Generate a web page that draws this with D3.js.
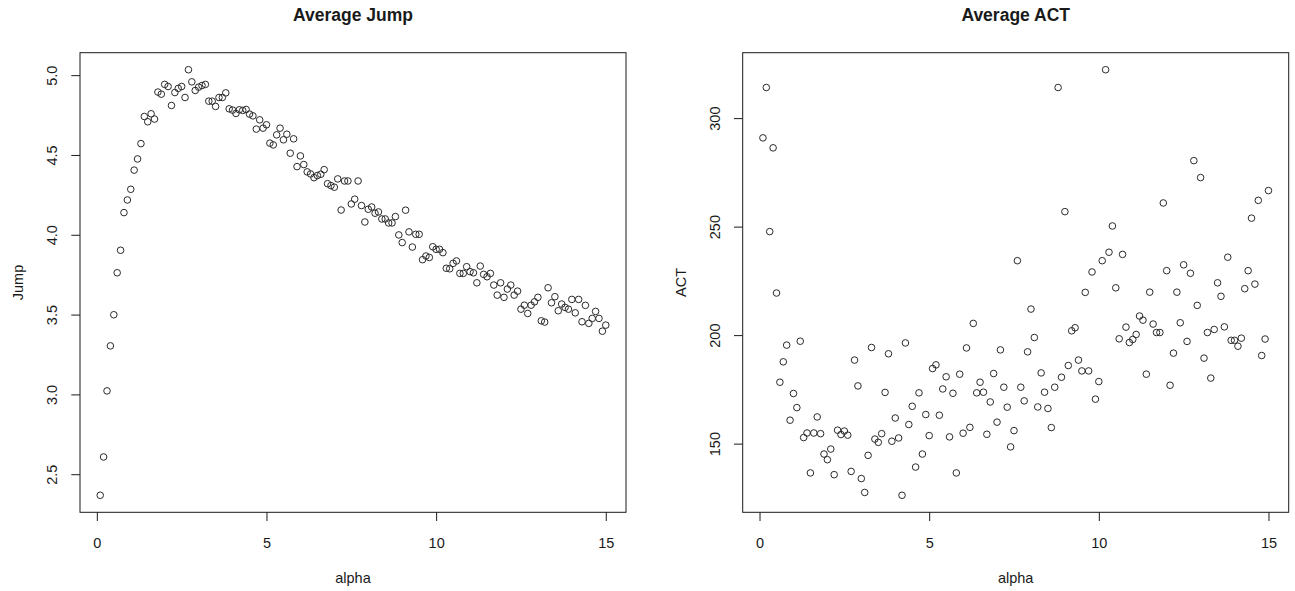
<!DOCTYPE html>
<html>
<head>
<meta charset="utf-8">
<script src="https://cdn.jsdelivr.net/npm/d3@7/dist/d3.min.js"></script>
<style>
  html, body { margin: 0; padding: 0; background: #fff; }
  svg { display: block; font-family: "Liberation Sans", Arial, Helvetica, sans-serif; }
</style>
</head>
<body>
<svg id="chart" width="1295" height="591"></svg>
<script>
const alpha = [0.1,0.2,0.3,0.4,0.5,0.6,0.7,0.8,0.9,1.0,1.1,1.2,1.3,1.4,1.5,1.6,1.7,1.8,1.9,2.0,
  2.1,2.2,2.3,2.4,2.5,2.6,2.7,2.8,2.9,3.0,3.1,3.2,3.3,3.4,3.5,3.6,3.7,3.8,3.9,4.0,
  4.1,4.2,4.3,4.4,4.5,4.6,4.7,4.8,4.9,5.0,5.1,5.2,5.3,5.4,5.5,5.6,5.7,5.8,5.9,6.0,
  6.1,6.2,6.3,6.4,6.5,6.6,6.7,6.8,6.9,7.0,7.1,7.2,7.3,7.4,7.5,7.6,7.7,7.8,7.9,8.0,
  8.1,8.2,8.3,8.4,8.5,8.6,8.7,8.8,8.9,9.0,9.1,9.2,9.3,9.4,9.5,9.6,9.7,9.8,9.9,10.0,
  10.1,10.2,10.3,10.4,10.5,10.6,10.7,10.8,10.9,11.0,11.1,11.2,11.3,11.4,11.5,11.6,11.7,11.8,11.9,12.0,
  12.1,12.2,12.3,12.4,12.5,12.6,12.7,12.8,12.9,13.0,13.1,13.2,13.3,13.4,13.5,13.6,13.7,13.8,13.9,14.0,
  14.1,14.2,14.3,14.4,14.5,14.6,14.7,14.8,14.9,15.0];

const jump = [2.368,2.608,3.022,3.304,3.499,3.762,3.903,4.139,4.218,4.285,
  4.405,4.475,4.571,4.741,4.708,4.758,4.725,4.894,4.881,4.942,
  4.929,4.810,4.891,4.917,4.929,4.860,5.034,4.958,4.904,4.925,
  4.935,4.942,4.837,4.837,4.804,4.860,4.860,4.889,4.789,4.781,
  4.760,4.783,4.779,4.785,4.756,4.745,4.662,4.720,4.668,4.689,
  4.574,4.563,4.626,4.668,4.595,4.630,4.511,4.601,4.427,4.494,
  4.440,4.394,4.381,4.358,4.371,4.379,4.408,4.320,4.308,4.298,
  4.350,4.155,4.337,4.337,4.193,4.223,4.337,4.183,4.080,4.160,
  4.174,4.135,4.143,4.099,4.099,4.074,4.074,4.114,3.999,3.951,
  4.154,4.018,3.923,4.003,4.003,3.844,3.867,3.858,3.925,3.909,
  3.909,3.888,3.790,3.787,3.821,3.836,3.758,3.758,3.800,3.769,
  3.762,3.699,3.804,3.752,3.737,3.758,3.685,3.622,3.699,3.608,
  3.660,3.685,3.622,3.647,3.534,3.559,3.507,3.559,3.580,3.608,
  3.461,3.453,3.668,3.574,3.612,3.524,3.566,3.545,3.534,3.595,
  3.511,3.595,3.455,3.558,3.445,3.476,3.520,3.476,3.396,3.434];

const act = [290.9,314.1,247.7,286.3,219.4,178.3,187.7,195.4,160.8,173.1,
  166.6,197.2,152.8,154.9,136.5,154.9,162.3,154.6,145.2,142.6,
  147.5,135.7,156.2,154.2,155.8,153.9,137.2,188.5,176.6,133.9,
  127.5,144.6,194.3,152.1,150.6,154.6,173.6,191.4,151.1,161.8,
  152.6,126.2,196.4,158.8,167.2,139.2,173.4,145.2,163.4,153.7,
  184.6,186.3,163.1,175.2,180.8,153.1,173.2,136.5,182.0,154.8,
  194.1,157.5,205.4,173.4,178.3,173.7,154.3,169.2,182.3,159.9,
  193.2,176.0,166.8,148.5,156.0,234.3,176.0,169.7,192.3,212.0,
  198.9,166.9,182.6,173.7,166.2,157.4,176.0,314.1,180.6,256.9,
  186.0,202.0,203.4,188.5,183.5,219.7,183.5,229.1,170.5,178.6,
  234.3,322.3,238.2,250.3,221.8,198.3,237.2,203.7,196.6,198.0,
  200.3,208.8,206.9,182.0,219.8,205.1,201.2,201.2,260.9,229.7,
  176.9,191.7,219.8,205.7,232.4,197.1,228.5,280.4,213.7,272.6,
  189.4,201.2,180.2,202.6,224.1,217.9,203.8,235.9,197.6,197.6,
  194.9,198.6,221.4,229.7,253.9,223.5,262.1,190.6,198.2,266.6];

const xTicks = [0, 5, 10, 15];
const jumpTicks = [2.5, 3.0, 3.5, 4.0, 4.5, 5.0];
const actTicks = [150, 200, 250, 300];

const panels = [
  { title: "Average Jump", ylab: "Jump", values: jump, yTicks: jumpTicks, fmt: d3.format(".1f"), left: 80 },
  { title: "Average ACT", ylab: "ACT", values: act, yTicks: actTicks, fmt: d3.format("d"), left: 742.7 }
];

const svg = d3.select("#chart");
const plotW = 546, plotTop = 52.7, plotBottom = 512.3;
const tickLen = 8.7;
const ink = "#1a1a1a";
const fontFam = "'Liberation Sans', Arial, Helvetica, sans-serif";

function padDomain(ext) {
  const r = ext[1] - ext[0];
  return [ext[0] - 0.04 * r, ext[1] + 0.04 * r];
}

panels.forEach(p => {
  const x = d3.scaleLinear().domain(padDomain(d3.extent(alpha))).range([p.left, p.left + plotW]);
  const y = d3.scaleLinear().domain(padDomain(d3.extent(p.values))).range([plotBottom, plotTop]);
  const g = svg.append("g");

  // points
  g.append("g").selectAll("circle")
    .data(alpha.map((a, i) => [a, p.values[i]]))
    .join("circle")
    .attr("cx", d => x(d[0]))
    .attr("cy", d => y(d[1]))
    .attr("r", 3.3)
    .attr("fill", "none")
    .attr("stroke", "#2a2a2a")
    .attr("stroke-width", 1);

  // x axis
  const xa = g.append("g").attr("transform", `translate(0,${plotBottom})`)
    .call(d3.axisBottom(x).tickValues(xTicks).tickSize(tickLen).tickSizeOuter(0).tickPadding(17).tickFormat(d3.format("d")));
  xa.select(".domain").remove();
  xa.selectAll("line").attr("stroke", ink);
  xa.selectAll("text").attr("font-size", "14.5px").attr("fill", ink).attr("font-family", fontFam);

  // y axis
  const ya = g.append("g").attr("transform", `translate(${p.left},0)`)
    .call(d3.axisLeft(y).tickValues(p.yTicks).tickSize(tickLen).tickSizeOuter(0).tickFormat(p.fmt));
  ya.select(".domain").remove();
  ya.selectAll("line").attr("stroke", ink);
  ya.selectAll("text")
    .attr("x", null).attr("dy", null)
    .attr("transform", "translate(-28,0) rotate(-90)")
    .attr("text-anchor", "middle")
    .attr("dominant-baseline", "central")
    .attr("font-size", "14.5px").attr("fill", ink).attr("font-family", fontFam);

  // box
  g.append("rect")
    .attr("x", p.left).attr("y", plotTop)
    .attr("width", plotW).attr("height", plotBottom - plotTop)
    .attr("fill", "none").attr("stroke", ink).attr("stroke-width", 1);

  // title
  g.append("text")
    .attr("x", p.left + plotW / 2).attr("y", 21)
    .attr("text-anchor", "middle")
    .attr("font-size", "17.5px").attr("font-weight", "bold").attr("fill", ink)
    .text(p.title);

  // x label
  g.append("text")
    .attr("x", p.left + plotW / 2).attr("y", 578)
    .attr("text-anchor", "middle").attr("dominant-baseline", "central")
    .attr("font-size", "14.5px").attr("fill", ink)
    .text("alpha");

  // y label
  g.append("text")
    .attr("transform", `translate(${p.left - 62},${(plotTop + plotBottom) / 2}) rotate(-90)`)
    .attr("text-anchor", "middle").attr("dominant-baseline", "central")
    .attr("font-size", "14.5px").attr("fill", ink)
    .text(p.ylab);
});
</script>
</body>
</html>
